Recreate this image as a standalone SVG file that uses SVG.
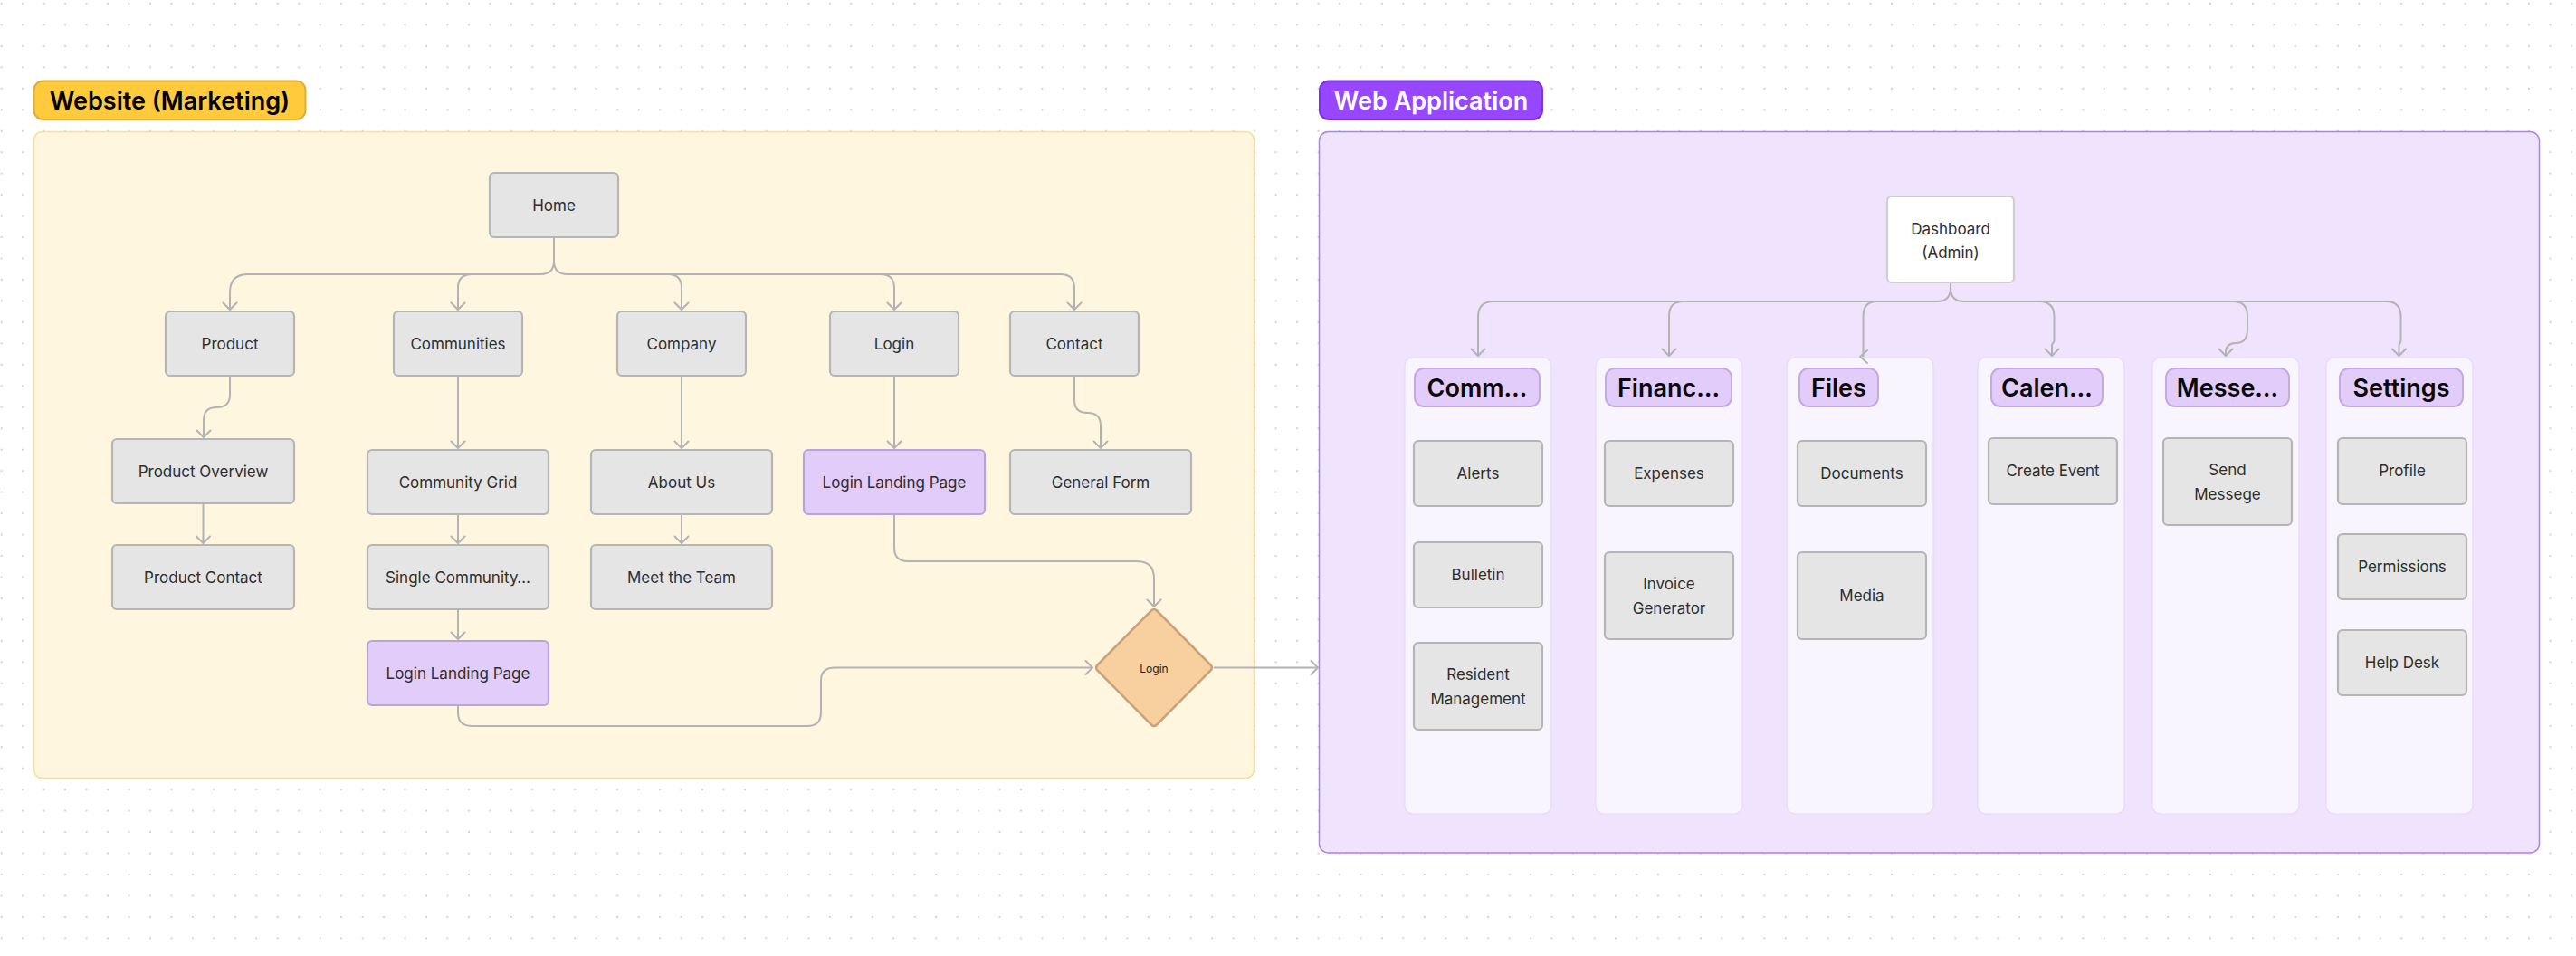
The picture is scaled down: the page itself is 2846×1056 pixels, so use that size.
<svg xmlns="http://www.w3.org/2000/svg" width="2846" height="1056" viewBox="0 0 2846 1056">
<defs>
<pattern id="dots" x="-10.03" y="-7.73" width="23.465" height="23.465" patternUnits="userSpaceOnUse">
<circle cx="11.73" cy="11.73" r="1.1" fill="#CFCFCF"/>
</pattern>
<marker id="arr" markerUnits="userSpaceOnUse" markerWidth="24" markerHeight="24" viewBox="-12 -12 24 24" refX="0" refY="0" orient="auto">
<path d="M-7.5,-7.5 L0,0 L-7.5,7.5" fill="none" stroke="#B3B3B3" stroke-width="2" stroke-linecap="round" stroke-linejoin="round"/>
</marker>
<style>
text{font-family:Inter,"Liberation Sans",sans-serif;text-anchor:middle;dominant-baseline:central}
.badge-t{font-size:27px;font-weight:600}
.node rect{fill:#E5E5E5;stroke:#B5B5B5;stroke-width:2.2}
.node text{font-size:17px;fill:#2E2E2E}
.lav rect{fill:#E2CCFA;stroke:#B9A3D8}
.lane rect.bg{fill:#F9F5FE;stroke:#E6D8FB;stroke-width:1.2}
.hdr rect{fill:#E2CCFA;stroke:#C4A9E4;stroke-width:2}
.hdr text{font-size:27px;font-weight:600;fill:#0A0A0A}
.conn path{fill:none;stroke:#B3B3B3;stroke-width:2;stroke-linejoin:round}
</style>
</defs>
<rect width="2846" height="1056" fill="#FFFFFF"/>
<rect width="2846" height="1056" fill="url(#dots)"/>

<!-- Website (Marketing) section -->
<g id="section-website">
<rect x="37.5" y="145.5" width="1348" height="714" rx="9" fill="#FFF6E0" stroke="#FDDF85" stroke-width="1.5"/>
<rect x="37.5" y="89.5" width="300" height="42.5" rx="10" fill="#FFCB3D" stroke="#DFAE32" stroke-width="2"/>
<text class="badge-t" x="187.5" y="111" fill="#000">Website (Marketing)</text>
</g>

<!-- Web Application section -->
<g id="section-webapp">
<rect x="1457.5" y="145.5" width="1348" height="796.5" rx="10" fill="#F0E3FD" stroke="#B07CF7" stroke-width="1.5"/>
<rect x="1458" y="89.5" width="246" height="42.5" rx="10" fill="#9747FF" stroke="#7B35D9" stroke-width="2"/>
<text class="badge-t" x="1581" y="111" fill="#FFFFFF">Web Application</text>
</g>

<!-- lanes -->
<g id="lane-comm" class="lane"><rect class="bg" x="1552" y="395" width="162" height="504" rx="9"/></g>
<g id="lane-fin" class="lane"><rect class="bg" x="1763" y="395" width="162" height="504" rx="9"/></g>
<g id="lane-files" class="lane"><rect class="bg" x="1974" y="395" width="162" height="504" rx="9"/></g>
<g id="lane-cal" class="lane"><rect class="bg" x="2185" y="395" width="162" height="504" rx="9"/></g>
<g id="lane-msg" class="lane"><rect class="bg" x="2378" y="395" width="162" height="504" rx="9"/></g>
<g id="lane-set" class="lane"><rect class="bg" x="2570" y="395" width="162" height="504" rx="9"/></g>

<!-- connectors -->
<g id="connectors" class="conn">
<path d="M612,263 V288 Q612,303 597,303 H274 Q254,303 254,323 V342" marker-end="url(#arr)"/>
<path d="M521,303 Q506,303 506,318 V342" marker-end="url(#arr)"/>
<path d="M612,263 V288 Q612,303 627,303 H1172 Q1187,303 1187,318 V342" marker-end="url(#arr)"/>
<path d="M738,303 Q753,303 753,318 V342" marker-end="url(#arr)"/>
<path d="M973,303 Q988,303 988,318 V342" marker-end="url(#arr)"/>
<path d="M254,416 V436 Q254,450 239.5,450 Q225,450 225,464 V483" marker-end="url(#arr)"/>
<path d="M224.5,557 V600" marker-end="url(#arr)"/>
<path d="M506,416 V495" marker-end="url(#arr)"/>
<path d="M506,569 V600" marker-end="url(#arr)"/>
<path d="M506,674 V706" marker-end="url(#arr)"/>
<path d="M753,416 V495" marker-end="url(#arr)"/>
<path d="M753,569 V600" marker-end="url(#arr)"/>
<path d="M988,416 V495" marker-end="url(#arr)"/>
<path d="M1187,416 V442 Q1187,456 1201.5,456 Q1216,456 1216,470 V495" marker-end="url(#arr)"/>
<path d="M988,569 V605 Q988,620 1003,620 H1256 Q1275,620 1275,639 V670" marker-end="url(#arr)"/>
<path d="M506,780 V787 Q506,802 521,802 H892 Q907,802 907,787 V752 Q907,737.5 922,737.5 H1207" marker-end="url(#arr)"/>
<path d="M1341,737.5 H1456" marker-end="url(#arr)"/>
<path d="M2155,313 V318 Q2155,333 2140,333 H1650 Q1633,333 1633,350 V393" marker-end="url(#arr)"/>
<path d="M1860,333 Q1844,333 1844,349 V393" marker-end="url(#arr)"/>
<path d="M2074,333 Q2058.5,333 2058.5,349 V394"/>
<path d="M2063,387 L2055,394 L2063,401" stroke-linecap="round"/>
<path d="M2155,313 V318 Q2155,333 2170,333 H2636 Q2652.5,333 2652.5,349.5 V377 L2650.5,381 V393" marker-end="url(#arr)"/>
<path d="M2253,333 Q2269.5,333 2269.5,349.5 V377 L2267,381 V393" marker-end="url(#arr)"/>
<path d="M2467,333 Q2483,333 2483,349 V364 Q2483,379 2470,379 Q2459,379 2459,390 V393" marker-end="url(#arr)"/>
</g>

<!-- Website nodes -->
<g id="n-home" class="node"><rect x="541" y="191" width="142" height="71" rx="5"/><text x="612" y="227">Home</text></g>
<g id="n-product" class="node"><rect x="183" y="344" width="142" height="71" rx="5"/><text x="254" y="380">Product</text></g>
<g id="n-communities" class="node"><rect x="435" y="344" width="142" height="71" rx="5"/><text x="506" y="380">Communities</text></g>
<g id="n-company" class="node"><rect x="682" y="344" width="142" height="71" rx="5"/><text x="753" y="380">Company</text></g>
<g id="n-login" class="node"><rect x="917" y="344" width="142" height="71" rx="5"/><text x="988" y="380">Login</text></g>
<g id="n-contact" class="node"><rect x="1116" y="344" width="142" height="71" rx="5"/><text x="1187" y="380">Contact</text></g>
<g id="n-product-overview" class="node"><rect x="124" y="485" width="201" height="71" rx="5"/><text x="224.5" y="521">Product Overview</text></g>
<g id="n-product-contact" class="node"><rect x="124" y="602" width="201" height="71" rx="5"/><text x="224.5" y="638">Product Contact</text></g>
<g id="n-community-grid" class="node"><rect x="406" y="497" width="200" height="71" rx="5"/><text x="506" y="533">Community Grid</text></g>
<g id="n-single-community" class="node"><rect x="406" y="602" width="200" height="71" rx="5"/><text x="506" y="638">Single Community…</text></g>
<g id="n-login-landing-1" class="node lav"><rect x="406" y="708" width="200" height="71" rx="5"/><text x="506" y="744">Login Landing Page</text></g>
<g id="n-about" class="node"><rect x="653" y="497" width="200" height="71" rx="5"/><text x="753" y="533">About Us</text></g>
<g id="n-meet" class="node"><rect x="653" y="602" width="200" height="71" rx="5"/><text x="753" y="638">Meet the Team</text></g>
<g id="n-login-landing-2" class="node lav"><rect x="888" y="497" width="200" height="71" rx="5"/><text x="988" y="533">Login Landing Page</text></g>
<g id="n-general-form" class="node"><rect x="1116" y="497" width="200" height="71" rx="5"/><text x="1216" y="533">General Form</text></g>
<g id="n-login-decision">
<path d="M1272,674.5 Q1275,671.5 1278,674.5 L1337.5,734.5 Q1340.5,737.5 1337.5,740.5 L1278,800.5 Q1275,803.5 1272,800.5 L1212.5,740.5 Q1209.5,737.5 1212.5,734.5 Z" fill="#F8D0A0" stroke="#C9A27C" stroke-width="2.5"/>
<text x="1275" y="738" font-size="12" fill="#222">Login</text>
</g>

<!-- Web app nodes -->
<g id="n-dashboard" class="node"><rect x="2085" y="217" width="140" height="95" rx="5" style="fill:#FFFFFF;stroke:#CFCFCF"/><text x="2155" y="253">Dashboard</text><text x="2155" y="279">(Admin)</text></g>

<g id="h-comm" class="hdr"><rect x="1563" y="407" width="138" height="42" rx="10"/><text x="1632" y="428">Comm…</text></g>
<g id="h-fin" class="hdr"><rect x="1774" y="407" width="139" height="42" rx="10"/><text x="1843.5" y="428">Financ…</text></g>
<g id="h-files" class="hdr"><rect x="1988" y="407" width="87" height="42" rx="10"/><text x="2031.5" y="428">Files</text></g>
<g id="h-cal" class="hdr"><rect x="2200" y="407" width="123" height="42" rx="10"/><text x="2261.5" y="428">Calen…</text></g>
<g id="h-msg" class="hdr"><rect x="2393" y="407" width="136" height="42" rx="10"/><text x="2461" y="428">Messe…</text></g>
<g id="h-set" class="hdr"><rect x="2585" y="407" width="136" height="42" rx="10"/><text x="2653" y="428">Settings</text></g>

<g id="n-alerts" class="node"><rect x="1562" y="487" width="142" height="72" rx="5"/><text x="1633" y="523">Alerts</text></g>
<g id="n-bulletin" class="node"><rect x="1562" y="599" width="142" height="72" rx="5"/><text x="1633" y="635">Bulletin</text></g>
<g id="n-resident" class="node"><rect x="1562" y="710" width="142" height="96" rx="5"/><text x="1633" y="745">Resident</text><text x="1633" y="772">Management</text></g>
<g id="n-expenses" class="node"><rect x="1773" y="487" width="142" height="72" rx="5"/><text x="1844" y="523">Expenses</text></g>
<g id="n-invoice" class="node"><rect x="1773" y="610" width="142" height="96" rx="5"/><text x="1844" y="645">Invoice</text><text x="1844" y="672">Generator</text></g>
<g id="n-documents" class="node"><rect x="1986" y="487" width="142" height="72" rx="5"/><text x="2057" y="523">Documents</text></g>
<g id="n-media" class="node"><rect x="1986" y="610" width="142" height="96" rx="5"/><text x="2057" y="658">Media</text></g>
<g id="n-create-event" class="node"><rect x="2197" y="484" width="142" height="73" rx="5"/><text x="2268" y="520">Create Event</text></g>
<g id="n-send-messege" class="node"><rect x="2390" y="484" width="142" height="96" rx="5"/><text x="2461" y="519">Send</text><text x="2461" y="546">Messege</text></g>
<g id="n-profile" class="node"><rect x="2583" y="484" width="142" height="73" rx="5"/><text x="2654" y="520">Profile</text></g>
<g id="n-permissions" class="node"><rect x="2583" y="590" width="142" height="72" rx="5"/><text x="2654" y="626">Permissions</text></g>
<g id="n-helpdesk" class="node"><rect x="2583" y="696" width="142" height="72" rx="5"/><text x="2654" y="732">Help Desk</text></g>
</svg>
